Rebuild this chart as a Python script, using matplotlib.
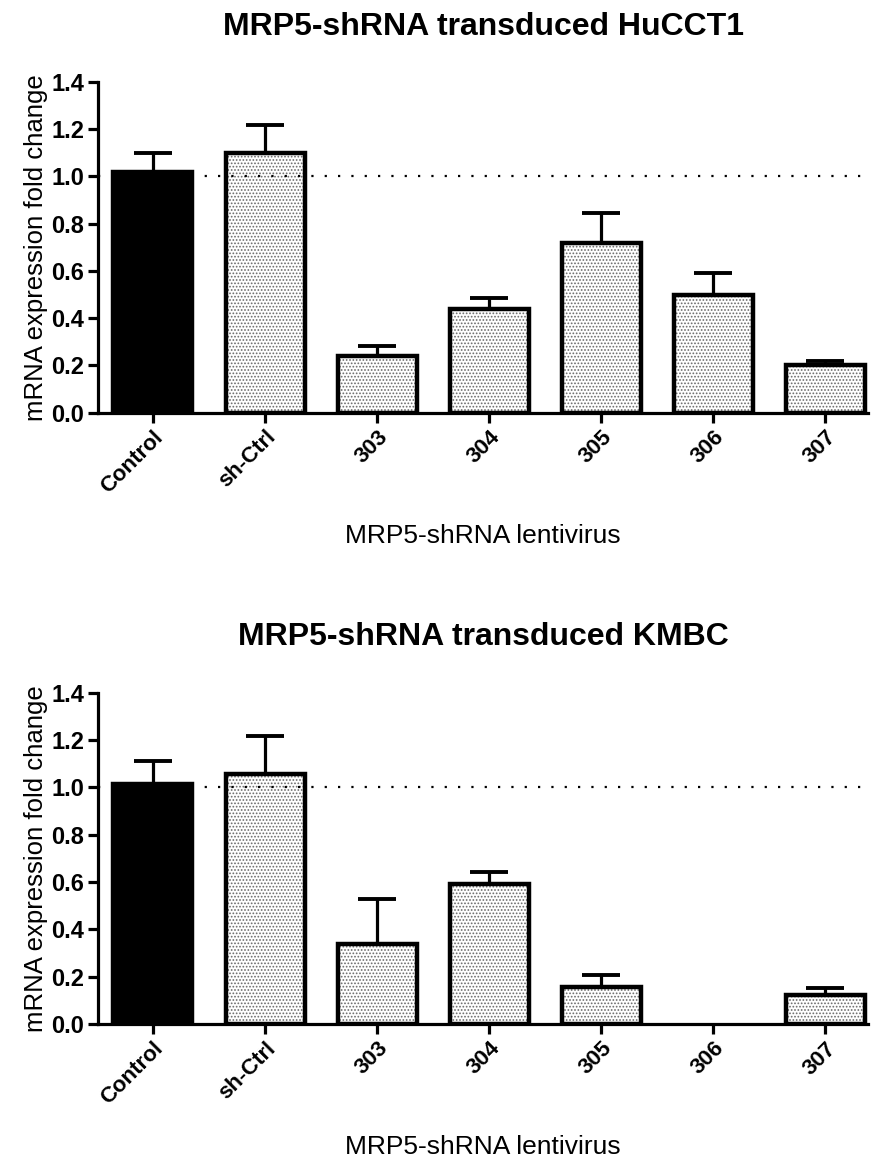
import numpy as np
import matplotlib
matplotlib.use("Agg")
import matplotlib.pyplot as plt

plt.rcParams['font.family'] = ['Liberation Sans', 'DejaVu Sans']
plt.rcParams['hatch.linewidth'] = 0.8

groups = ["Control", "sh-Ctrl", "303", "304", "305", "306", "307"]

hucct1_mean = [1.02, 1.097, 0.24, 0.437, 0.716, 0.497, 0.203]
hucct1_err = [0.08, 0.12, 0.04, 0.05, 0.13, 0.095, 0.015]

kmbc_mean = [1.015, 1.055, 0.337, 0.592, 0.158, np.nan, 0.122]
kmbc_err = [0.095, 0.16, 0.19, 0.05, 0.05, np.nan, 0.03]

titles = ["MRP5-shRNA transduced HuCCT1", "MRP5-shRNA transduced KMBC"]
xlabel = "MRP5-shRNA lentivirus"
ylabel = "mRNA expression fold change"


def draw_panel(ax, means, errs, title):
    x = np.arange(len(groups))
    means = np.array(means, dtype=float)
    errs = np.array(errs, dtype=float)
    ok = ~np.isnan(means)
    width = 0.705
    lw = 3.2

    for i in x[ok]:
        if i == 0:
            ax.bar(i, means[i], width, color="black", edgecolor="black",
                   linewidth=lw, zorder=3)
        else:
            # dotted fill first, then the thick black outline
            ax.bar(i, means[i], width, color="white", edgecolor="#6a6a6a",
                   hatch=".....", linewidth=0, zorder=2)
            ax.bar(i, means[i], width, color="none", edgecolor="black",
                   linewidth=lw, zorder=3)

    ax.errorbar(x[ok], means[ok], yerr=[np.zeros(ok.sum()), errs[ok]],
                fmt="none", ecolor="black", elinewidth=2.3, capsize=13.5,
                capthick=2.8, zorder=4)

    ax.axhline(1.0, color="black", linestyle=(0, (1, 5)), linewidth=1.6,
               zorder=2.5)

    ax.set_xlim(-0.49, 6.38)
    ax.set_ylim(0, 1.4)
    ax.set_yticks(np.arange(0, 1.41, 0.2))
    ax.set_yticklabels([f"{v:.1f}" for v in np.arange(0, 1.41, 0.2)],
                       fontsize=17, fontweight="bold")
    ax.set_xticks(x)
    ax.set_xticklabels(groups, rotation=45, ha="right", rotation_mode="anchor",
                       fontsize=16, fontweight="bold")

    for s in ["top", "right"]:
        ax.spines[s].set_visible(False)
    for s in ["left", "bottom"]:
        ax.spines[s].set_linewidth(2.3)
    ax.tick_params(width=2.3, length=7, pad=3)

    ax.set_title(title, fontsize=23, fontweight="bold", pad=34)
    ax.set_xlabel(xlabel, fontsize=19, labelpad=19)
    ax.set_ylabel(ylabel, fontsize=18.5, labelpad=2)


fig = plt.figure(figsize=(8.73, 11.65), dpi=100)
ax1 = fig.add_axes([0.1123, 0.6458, 0.882, 0.2839])
ax2 = fig.add_axes([0.1123, 0.1210, 0.882, 0.2844])

draw_panel(ax1, hucct1_mean, hucct1_err, titles[0])
draw_panel(ax2, kmbc_mean, kmbc_err, titles[1])

fig.savefig("out.png", dpi=100)
